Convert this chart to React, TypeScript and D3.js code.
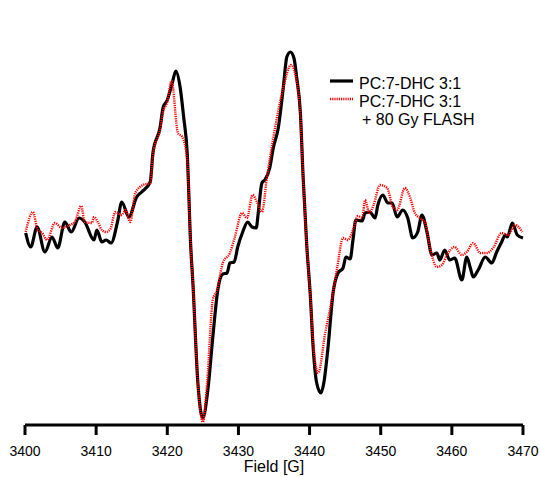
import React from "react";
import * as d3 from "d3";

// Field values [G] and EPR signal intensity (arbitrary units)
const blackField = [3400.1,3400.8,3401.7,3402.8,3403.8,3404.6,3405.6,3406.5,3407.6,3408.4,3409.7,3410.1,3410.8,3411.4,3412.1,3413.0,3413.6,3414.6,3415.7,3416.4,3417.6,3418.0,3419.0,3419.4,3420.0,3420.7,3421.2,3421.8,3422.3,3422.8,3423.3,3423.6,3424.3,3425.0,3425.7,3426.4,3427.1,3427.8,3428.4,3428.8,3429.4,3429.9,3430.6,3431.3,3431.9,3432.5,3432.8,3433.3,3433.7,3434.4,3434.9,3435.6,3436.3,3436.8,3437.3,3437.8,3438.2,3438.7,3439.1,3439.6,3440.1,3440.5,3441.0,3441.6,3442.0,3442.6,3443.3,3444.0,3444.7,3445.1,3445.7,3446.1,3446.5,3447.4,3447.8,3448.5,3449.2,3449.6,3450.3,3451.0,3451.6,3452.3,3453.1,3453.8,3454.5,3455.2,3455.8,3456.5,3457.2,3457.9,3458.3,3459.0,3459.7,3460.4,3461.4,3462.1,3462.6,3463.0,3463.7,3464.7,3465.6,3466.3,3467.0,3467.5,3467.8,3468.5,3469.2,3470.0];
const blackSignal = [-1,-15,5,-20,-5,-16,10,0,14,10,-8,2,-10,-8,-11,10,30,15,35,40,50,80,105,124,132,149,161,145,115,79,-15,-51,-151,-186,-158,-105,-58,-42,-41,-31,-30,-15,0,10,5,4,20,49,52,64,84,104,144,175,180,174,154,120,54,-13,-63,-115,-151,-161,-151,-115,-61,-41,-36,-25,-27,-8,12,11,19,20,14,27,37,29,29,15,22,14,-6,0,17,0,-23,-21,-28,-18,-28,-26,-48,-25,-36,-45,-38,-25,-31,-20,-10,-3,-5,9,-3,-6];

const redField = [3400.1,3401.1,3401.8,3402.4,3403.1,3404.2,3405.2,3406.3,3407.0,3407.9,3408.4,3409.4,3409.7,3410.3,3410.8,3411.4,3412.0,3412.7,3413.6,3414.1,3414.8,3415.5,3416.6,3417.6,3418.0,3419.0,3419.4,3420.0,3420.6,3421.5,3422.1,3422.8,3423.3,3423.6,3424.3,3425.0,3425.6,3426.4,3427.0,3427.8,3428.8,3429.5,3430.5,3431.2,3432.0,3432.6,3433.3,3434.0,3434.9,3436.3,3437.4,3438.2,3438.7,3439.1,3439.6,3440.1,3440.5,3441.2,3442.2,3443.2,3443.9,3444.7,3445.4,3446.1,3446.8,3447.4,3447.8,3448.4,3449.0,3449.9,3450.9,3451.7,3452.3,3453.4,3454.1,3454.8,3455.5,3456.2,3456.9,3457.9,3458.6,3459.3,3460.4,3461.4,3462.1,3463.0,3464.0,3464.9,3465.8,3467.0,3467.9,3468.9,3469.9];
const redSignal = [0,20,2,-1,-8,9,4,7,10,26,10,9,15,9,2,0,3,20,17,22,10,39,47,49,78,103,120,130,151,99,95,72,-15,-51,-151,-190,-151,-68,-58,-31,-21,-5,19,14,37,30,20,54,94,144,167,150,118,54,-13,-63,-110,-141,-101,-65,-35,-6,-8,2,16,14,32,19,27,47,44,25,22,44,35,19,14,10,-15,-35,-33,-23,-15,-23,-20,-11,-21,-21,-16,-1,-3,7,0];

const xTicks = [3400, 3410, 3420, 3430, 3440, 3450, 3460, 3470];
const legendLabels = ["PC:7-DHC 3:1", "PC:7-DHC 3:1", "+ 80 Gy FLASH"];

const W = 540;
const H = 477;
const FONT = "'Liberation Sans', Arial, sans-serif";

export default function App() {
  const x = d3.scaleLinear().domain([3400, 3470]).range([25, 523]);
  const y = d3.scaleLinear().domain([-200, 200]).range([432, 32]);
  const line = d3
    .line<[number, number]>()
    .x((d) => x(d[0]))
    .y((d) => y(d[1]))
    .curve(d3.curveMonotoneX);
  const black = blackField.map((f, i) => [f, blackSignal[i]] as [number, number]);
  const red = redField.map((f, i) => [f, redSignal[i]] as [number, number]);
  const axisY = 425;

  return (
    <svg
      width={W}
      height={H}
      style={{ position: "absolute", left: 0, top: 0, background: "#fff" }}
      fontFamily={FONT}
    >
      <path d={line(black) || ""} fill="none" stroke="#000" strokeWidth={3.2} strokeLinejoin="round" />
      <path d={line(red) || ""} fill="none" stroke="#ff0000" strokeWidth={2.4} strokeDasharray="1.2 1" />

      {/* x axis */}
      <line x1={x(3400)} x2={x(3470)} y1={axisY} y2={axisY} stroke="#000" strokeWidth={3} />
      {xTicks.map((t) => (
        <g key={t}>
          <line x1={x(t)} x2={x(t)} y1={axisY} y2={axisY + 10} stroke="#000" strokeWidth={3} />
          <text x={x(t)} y={456} textAnchor="middle" fontSize={14} fill="#000">
            {t}
          </text>
        </g>
      ))}
      <text x={x(3435)} y={472} textAnchor="middle" fontSize={16} fill="#000">
        Field [G]
      </text>

      {/* legend */}
      <line x1={330} x2={353} y1={81} y2={81} stroke="#000" strokeWidth={3.2} />
      <text x={359} y={89} fontSize={16} fill="#000">{legendLabels[0]}</text>
      <line x1={330} x2={353} y1={99} y2={99} stroke="#ff0000" strokeWidth={2.4} strokeDasharray="1.2 1" />
      <text x={359} y={107} fontSize={16} fill="#000">{legendLabels[1]}</text>
      <text x={362} y={125} fontSize={16} fill="#000">{legendLabels[2]}</text>
    </svg>
  );
}
